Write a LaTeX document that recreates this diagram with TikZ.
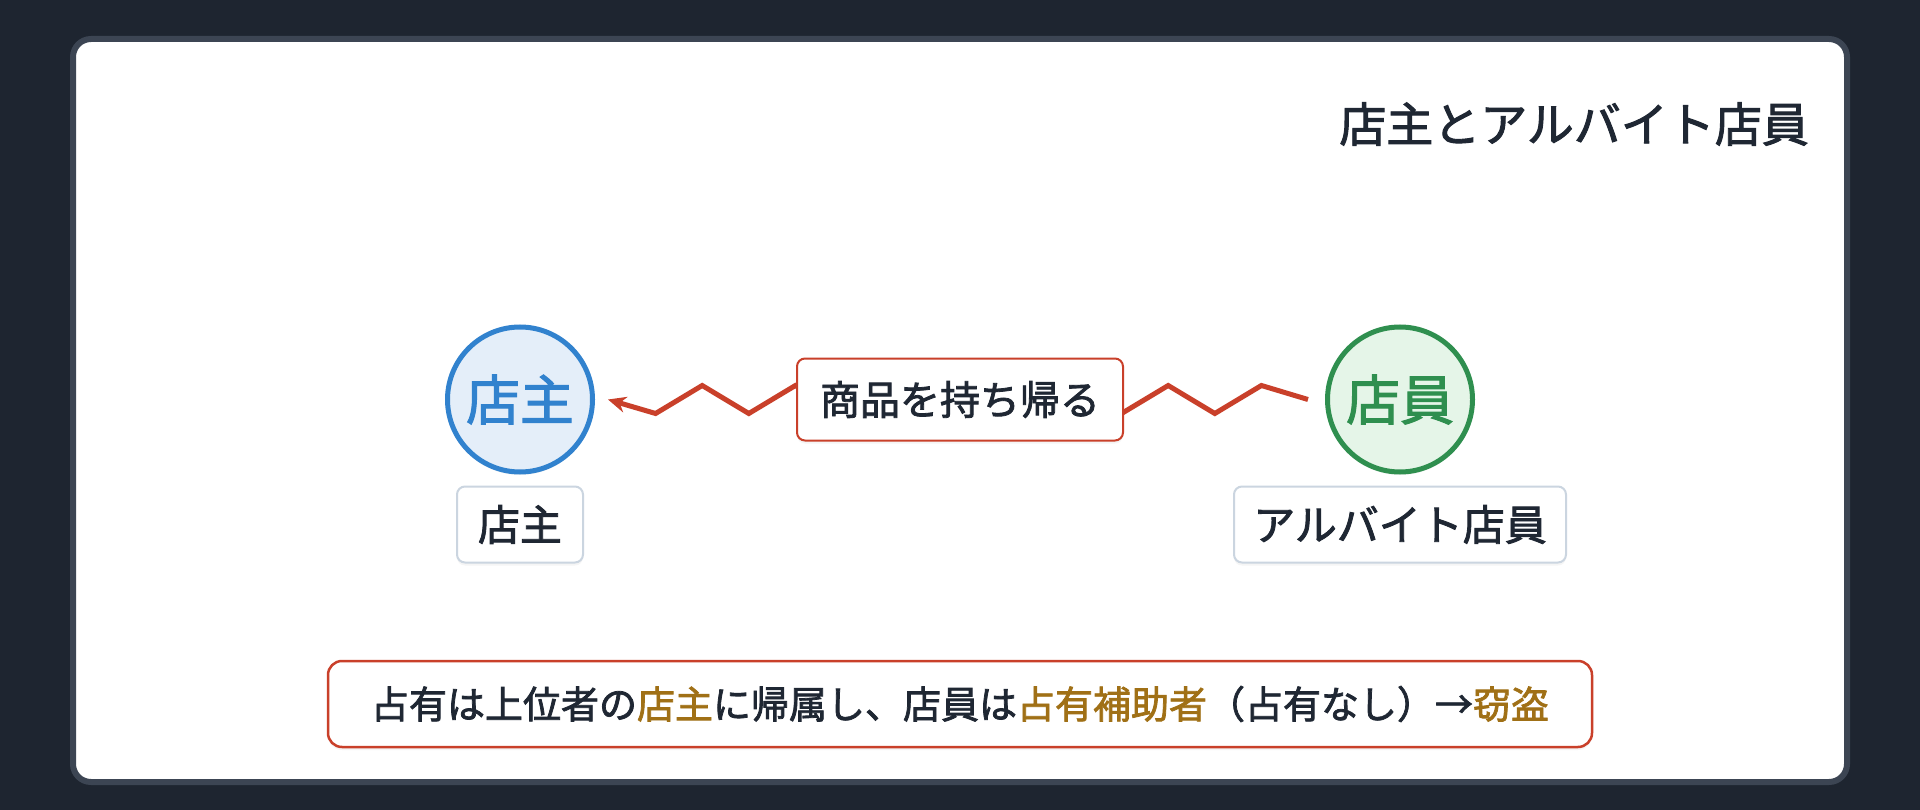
\documentclass[tikz,border=0pt]{standalone}
\usepackage{fontspec}
\setmainfont[RawFeature={embolden=2}]{Noto Sans CJK JP}
\usetikzlibrary{arrows.meta,shadows}
\definecolor{bgdark}{RGB}{30,37,48}
\definecolor{cardborder}{RGB}{60,69,83}
\definecolor{txtdark}{RGB}{31,39,51}
\definecolor{redc}{RGB}{201,64,42}
\definecolor{bluec}{RGB}{49,130,206}
\definecolor{bluefill}{RGB}{228,238,249}
\definecolor{greenc}{RGB}{47,143,79}
\definecolor{greenfill}{RGB}{229,245,232}
\definecolor{labborder}{RGB}{203,213,224}
\definecolor{goldc}{RGB}{160,112,22}
\tikzset{
  softshadow/.style={drop shadow={opacity=0.08,shadow xshift=0pt,shadow yshift=-3pt}},
  person/.style={circle,line width=5pt,minimum size=145pt,inner sep=0pt,
    font=\fontsize{54}{60}\selectfont,softshadow},
  namebox/.style={rectangle,rounded corners=8pt,draw=labborder,line width=2pt,fill=white,
    minimum height=76pt,inner sep=0pt,text=txtdark,font=\fontsize{42}{48}\selectfont,softshadow},
  actbox/.style={rectangle,rounded corners=8pt,draw=redc,line width=2pt,fill=white,
    minimum width=326pt,minimum height=82pt,inner sep=0pt,text=txtdark,
    font=\fontsize{40}{46}\selectfont,softshadow},
  notebox/.style={rectangle,rounded corners=14pt,draw=redc,line width=2.5pt,fill=white,
    minimum width=1264pt,minimum height=86pt,inner sep=0pt,text=txtdark,
    font=\fontsize{38}{44}\selectfont,softshadow},
  zz/.style={draw=redc,line width=5pt,line join=miter,-{Stealth[length=18pt,width=16pt]}},
}
\begin{document}
\begin{tikzpicture}[x=1pt,y=-1pt]
\useasboundingbox (0,0) rectangle (1920,810);
\fill[bgdark] (0,0) rectangle (1920,810);
\draw[line width=6pt,draw=cardborder,fill=white,rounded corners=18pt] (73,39) rectangle (1847,782);

\node[anchor=east,text=txtdark,font=\fontsize{47}{54}\selectfont,inner sep=0pt] (title) at (1809,124) {店主とアルバイト店員};

\node[person,draw=bluec,fill=bluefill,text=bluec] (own) at (520,399.5) {店主};
\node[person,draw=greenc,fill=greenfill,text=greenc] (emp) at (1400,399.5) {店員};

\node[namebox,minimum width=126pt] (ownlab) at (520,524.5) {店主};
\node[namebox,minimum width=332pt] (emplab) at (1400,524.5) {アルバイト店員};

\coordinate (zs) at ([xshift=-17pt]emp.west);
\coordinate (ze) at ([xshift=13pt]own.east);
\draw[zz] (zs) -- ++(-46.6,-14) -- ++(-46.6,28) -- ++(-46.6,-28) -- ++(-46.6,28)
  -- ++(-46.6,-28) -- ++(-46.6,28) -- ++(-46.6,-28) -- ++(-46.6,28)
  -- ++(-46.6,-28) -- ++(-46.6,28) -- ++(-46.6,-28) -- ++(-46.6,28)
  -- ++(-46.6,-28) -- ++(-46.6,28) -- (ze);

\node[actbox] (act) at (960,399.5) {商品を持ち帰る};

\node[notebox] (note) at (960,704) {占有は上位者の{\color{goldc}店主}に帰属し、店員は{\color{goldc}占有補助者}（占有なし）→{\color{goldc}窃盗}};
\end{tikzpicture}
\end{document}
